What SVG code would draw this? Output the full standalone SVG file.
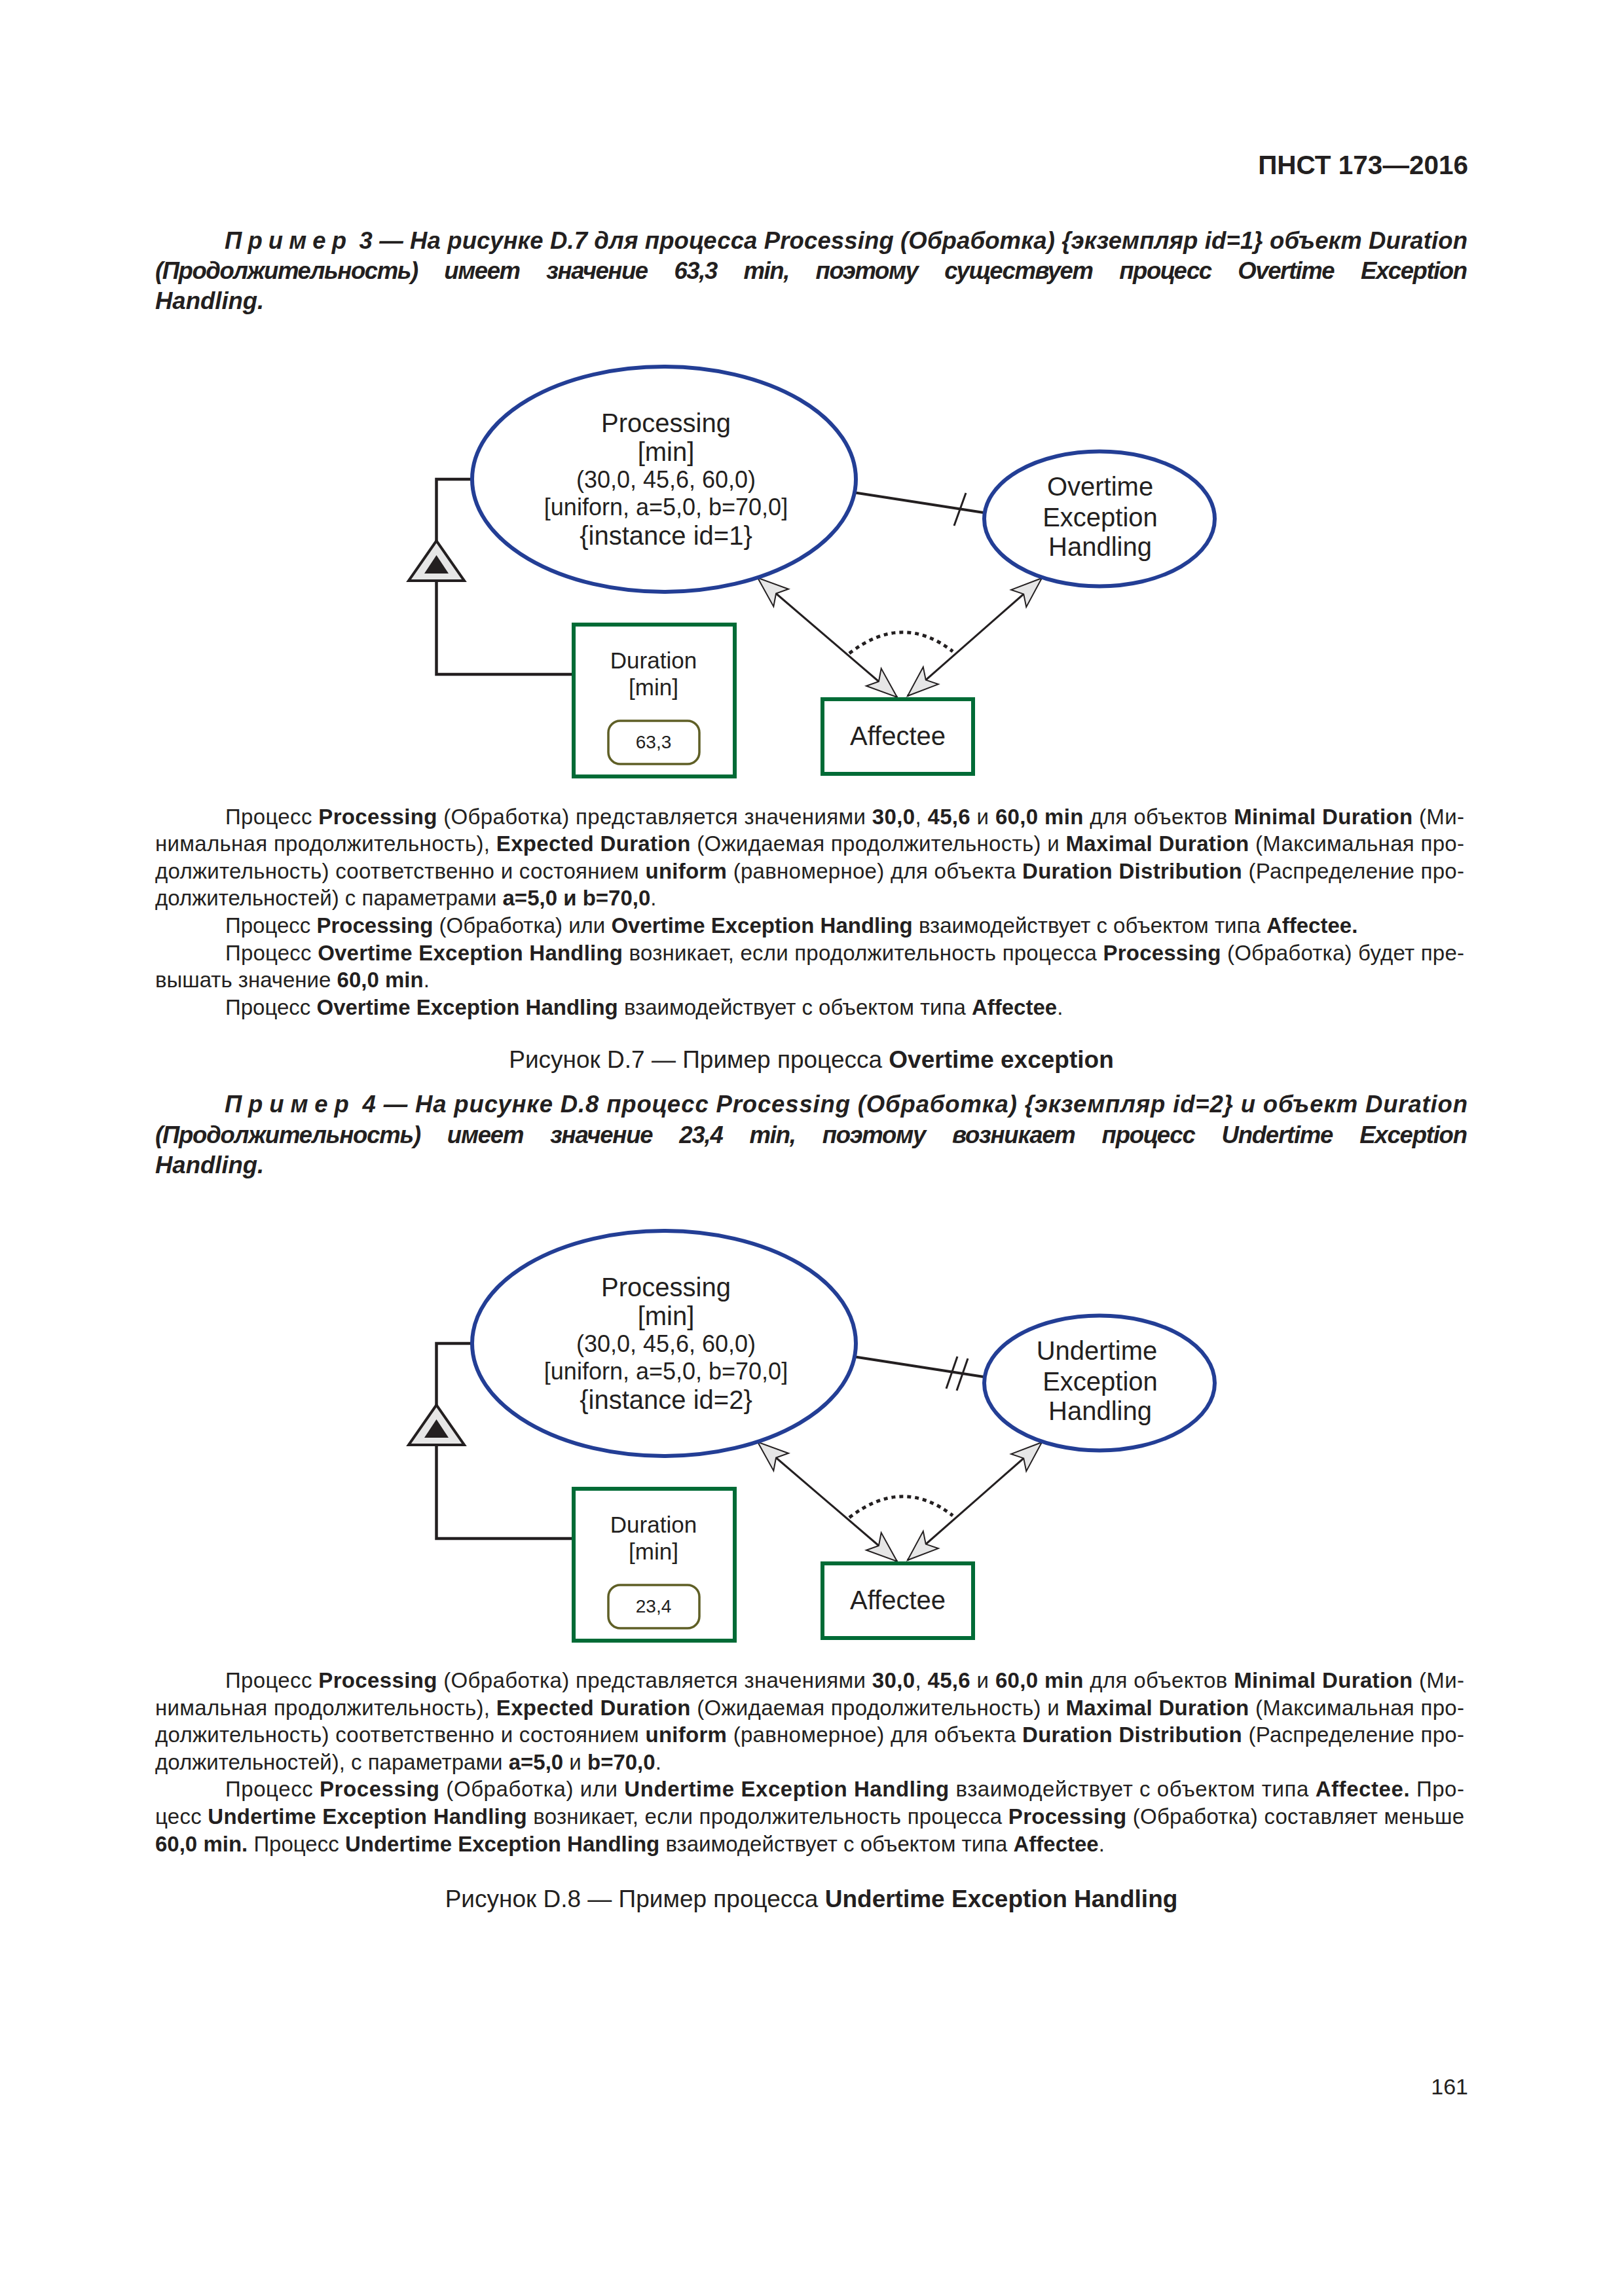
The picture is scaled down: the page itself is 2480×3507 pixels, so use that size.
<svg xmlns="http://www.w3.org/2000/svg" width="2480" height="3507" viewBox="0 0 2480 3507">
<style>
text{font-family:"Liberation Sans",Arial,Helvetica,sans-serif;fill:#231f20}
.hdr{font-size:40.5px;font-weight:bold;text-anchor:end}
.ex{font-size:36.5px;font-weight:bold;font-style:italic}
.body{font-size:33px}
.b{font-weight:bold}
.cap{font-size:37px;text-anchor:middle}
.pg{font-size:34px;text-anchor:end}
.lbl{text-anchor:middle}
.proc{fill:#fff;stroke:#233e95;stroke-width:6}
.obj{fill:#fff;stroke:#006b36;stroke-width:6}
.val{fill:#fff;stroke:#5f5f26;stroke-width:3.5}
.ln{stroke:#231f20;stroke-width:4.5;fill:none}
.tk{stroke:#231f20;stroke-width:3;fill:none}
.ar{stroke:#231f20;stroke-width:3;fill:none;marker-start:url(#ah);marker-end:url(#ah)}
.dot{stroke:#231f20;stroke-width:5;fill:none;stroke-dasharray:6 6}
.tri{fill:#e6e6e6;stroke:#231f20;stroke-width:4}
.trin{fill:#231f20}
</style>
<defs>
<marker id="ah" markerUnits="userSpaceOnUse" viewBox="-50 -20 53 40" markerWidth="53" markerHeight="40" refX="0" refY="0" orient="auto-start-reverse">
<path d="M0,0 L-47,-17.5 L-37,0 L-47,17.5 Z" fill="#e6e6e6" stroke="#231f20" stroke-width="2" stroke-linejoin="miter"/>
</marker>
</defs>
<rect width="2480" height="3507" fill="#fff"/>

<text class="hdr" x="2242" y="266">ПНСТ 173—2016</text>

<!-- Example 3 -->
<text class="ex" x="343" y="380" textLength="1898" lengthAdjust="spacing"><tspan letter-spacing="9">Пример</tspan> 3 — На рисунке D.7 для процесса Processing (Обработка) {экземпляр id=1} объект Duration</text>
<text class="ex" x="237" y="426" textLength="2004" lengthAdjust="spacing" word-spacing="32">(Продолжительность) имеет значение 63,3 min, поэтому существует процесс Overtime Exception</text>
<text class="ex" x="237" y="472">Handling.</text>

<!-- Diagram D.7 -->
<g id="d7">
<g id="connectors-d7">
<polyline class="ln" points="720,732 666.5,732 666.5,826"/>
<polyline class="ln" points="666.5,887 666.5,1030 873,1030"/>
<line class="ln" x1="1306" y1="752.5" x2="1502" y2="783" style="stroke-width:4"/>
<line class="tk" x1="1475" y1="753" x2="1457" y2="803"/>
<line class="ar" x1="1157" y1="882.5" x2="1370" y2="1065"/>
<line class="ar" x1="1591" y1="883" x2="1386" y2="1063"/>
<path class="dot" d="M1297,998 Q1378,935 1455,995"/>
<path class="tri" d="M666.5,826 L624,887 L709,887 Z"/>
<path class="trin" d="M666.5,848 L648,876 L685,876 Z"/>
</g>
<g id="d7-processing">
<ellipse class="proc" cx="1014" cy="732" rx="293" ry="172"/>
<text class="lbl" x="1017" y="660" font-size="40">Processing</text>
<text class="lbl" x="1017" y="704" font-size="40">[min]</text>
<text class="lbl" x="1017" y="745" font-size="36">(30,0, 45,6, 60,0)</text>
<text class="lbl" x="1017" y="787" font-size="36">[uniforn, a=5,0, b=70,0]</text>
<text class="lbl" x="1017" y="832" font-size="40">{instance id=1}</text>
</g>
<g id="d7-overtime">
<ellipse class="proc" cx="1679" cy="792.5" rx="176" ry="103"/>
<text class="lbl" x="1680" y="757" font-size="40">Overtime</text>
<text class="lbl" x="1680" y="804" font-size="40">Exception</text>
<text class="lbl" x="1680" y="849" font-size="40">Handling</text>
</g>
<g id="d7-duration">
<rect class="obj" x="876" y="954" width="246" height="232"/>
<text class="lbl" x="998" y="1021" font-size="35">Duration</text>
<text class="lbl" x="998" y="1062" font-size="35">[min]</text>
<rect class="val" x="929" y="1101" width="139" height="66" rx="18"/>
<text class="lbl" x="998" y="1143" font-size="28">63,3</text>
</g>
<g id="d7-affectee">
<rect class="obj" x="1256" y="1068" width="230" height="114"/>
<text class="lbl" x="1371" y="1138" font-size="40">Affectee</text>
</g>
</g>

<!-- Text block D.7 -->
<text class="body" x="344" y="1259" textLength="1892" lengthAdjust="spacing">Процесс <tspan class="b">Processing</tspan> (Обработка) представляется значениями <tspan class="b">30,0</tspan>, <tspan class="b">45,6</tspan> и <tspan class="b">60,0 min</tspan> для объектов <tspan class="b">Minimal Duration</tspan> (Ми-</text>
<text class="body" x="237" y="1300" textLength="1999" lengthAdjust="spacing">нимальная продолжительность), <tspan class="b">Expected Duration</tspan> (Ожидаемая продолжительность) и <tspan class="b">Maximal Duration</tspan> (Максимальная про-</text>
<text class="body" x="237" y="1342" textLength="1999" lengthAdjust="spacing">должительность) соответственно и состоянием <tspan class="b">uniform</tspan> (равномерное) для объекта <tspan class="b">Duration Distribution</tspan> (Распределение про-</text>
<text class="body" x="237" y="1383">должительностей) с параметрами <tspan class="b">a=5,0 и b=70,0</tspan>.</text>
<text class="body" x="344" y="1425">Процесс <tspan class="b">Processing</tspan> (Обработка) или <tspan class="b">Overtime Exception Handling</tspan> взаимодействует с объектом типа <tspan class="b">Affectee.</tspan></text>
<text class="body" x="344" y="1467" textLength="1892" lengthAdjust="spacing">Процесс <tspan class="b">Overtime Exception Handling</tspan> возникает, если продолжительность процесса <tspan class="b">Processing</tspan> (Обработка) будет пре-</text>
<text class="body" x="237" y="1508">вышать значение <tspan class="b">60,0 min</tspan>.</text>
<text class="body" x="344" y="1550">Процесс <tspan class="b">Overtime Exception Handling</tspan> взаимодействует с объектом типа <tspan class="b">Affectee</tspan>.</text>

<text class="cap" x="1239" y="1631">Рисунок D.7 — Пример процесса <tspan class="b">Overtime exception</tspan></text>

<!-- Example 4 -->
<text class="ex" x="343" y="1699" textLength="1898" lengthAdjust="spacing"><tspan letter-spacing="9">Пример</tspan> 4 — На рисунке D.8 процесс Processing (Обработка) {экземпляр id=2} и объект Duration</text>
<text class="ex" x="237" y="1746" textLength="2004" lengthAdjust="spacing" word-spacing="32">(Продолжительность) имеет значение 23,4 min, поэтому возникает процесс Undertime Exception</text>
<text class="ex" x="237" y="1792">Handling.</text>

<!-- Diagram D.8 -->
<g id="d8" transform="translate(0,1320)">
<g id="connectors-d8">
<polyline class="ln" points="720,732 666.5,732 666.5,826"/>
<polyline class="ln" points="666.5,887 666.5,1030 873,1030"/>
<line class="ln" x1="1306" y1="752.5" x2="1502" y2="783" style="stroke-width:4"/>
<line class="tk" x1="1478" y1="755" x2="1461" y2="804"/>
<line class="tk" x1="1462" y1="752" x2="1445" y2="801"/>
<line class="ar" x1="1157" y1="882.5" x2="1370" y2="1065"/>
<line class="ar" x1="1591" y1="883" x2="1386" y2="1063"/>
<path class="dot" d="M1297,998 Q1378,935 1455,995"/>
<path class="tri" d="M666.5,826 L624,887 L709,887 Z"/>
<path class="trin" d="M666.5,848 L648,876 L685,876 Z"/>
</g>
<g id="d8-processing">
<ellipse class="proc" cx="1014" cy="732" rx="293" ry="172"/>
<text class="lbl" x="1017" y="660" font-size="40">Processing</text>
<text class="lbl" x="1017" y="704" font-size="40">[min]</text>
<text class="lbl" x="1017" y="745" font-size="36">(30,0, 45,6, 60,0)</text>
<text class="lbl" x="1017" y="787" font-size="36">[uniforn, a=5,0, b=70,0]</text>
<text class="lbl" x="1017" y="832" font-size="40">{instance id=2}</text>
</g>
<g id="d8-undertime">
<ellipse class="proc" cx="1679" cy="792.5" rx="176" ry="103"/>
<text class="lbl" x="1675" y="757" font-size="40">Undertime</text>
<text class="lbl" x="1680" y="804" font-size="40">Exception</text>
<text class="lbl" x="1680" y="849" font-size="40">Handling</text>
</g>
<g id="d8-duration">
<rect class="obj" x="876" y="954" width="246" height="232"/>
<text class="lbl" x="998" y="1021" font-size="35">Duration</text>
<text class="lbl" x="998" y="1062" font-size="35">[min]</text>
<rect class="val" x="929" y="1101" width="139" height="66" rx="18"/>
<text class="lbl" x="998" y="1143" font-size="28">23,4</text>
</g>
<g id="d8-affectee">
<rect class="obj" x="1256" y="1068" width="230" height="114"/>
<text class="lbl" x="1371" y="1138" font-size="40">Affectee</text>
</g>
</g>

<!-- Text block D.8 -->
<text class="body" x="344" y="2578" textLength="1892" lengthAdjust="spacing">Процесс <tspan class="b">Processing</tspan> (Обработка) представляется значениями <tspan class="b">30,0</tspan>, <tspan class="b">45,6</tspan> и <tspan class="b">60,0 min</tspan> для объектов <tspan class="b">Minimal Duration</tspan> (Ми-</text>
<text class="body" x="237" y="2620" textLength="1999" lengthAdjust="spacing">нимальная продолжительность), <tspan class="b">Expected Duration</tspan> (Ожидаемая продолжительность) и <tspan class="b">Maximal Duration</tspan> (Максимальная про-</text>
<text class="body" x="237" y="2661" textLength="1999" lengthAdjust="spacing">должительность) соответственно и состоянием <tspan class="b">uniform</tspan> (равномерное) для объекта <tspan class="b">Duration Distribution</tspan> (Распределение про-</text>
<text class="body" x="237" y="2703">должительностей), с параметрами <tspan class="b">a=5,0</tspan> и <tspan class="b">b=70,0</tspan>.</text>
<text class="body" x="344" y="2744" textLength="1892" lengthAdjust="spacing">Процесс <tspan class="b">Processing</tspan> (Обработка) или <tspan class="b">Undertime Exception Handling</tspan> взаимодействует с объектом типа <tspan class="b">Affectee.</tspan> Про-</text>
<text class="body" x="237" y="2786" textLength="1999" lengthAdjust="spacing">цесс <tspan class="b">Undertime Exception Handling</tspan> возникает, если продолжительность процесса <tspan class="b">Processing</tspan> (Обработка) составляет меньше</text>
<text class="body" x="237" y="2828"><tspan class="b">60,0 min.</tspan> Процесс <tspan class="b">Undertime Exception Handling</tspan> взаимодействует с объектом типа <tspan class="b">Affectee</tspan>.</text>

<text class="cap" x="1239" y="2913">Рисунок D.8 — Пример процесса <tspan class="b">Undertime Exception Handling</tspan></text>

<text class="pg" x="2242" y="3199">161</text>
</svg>
